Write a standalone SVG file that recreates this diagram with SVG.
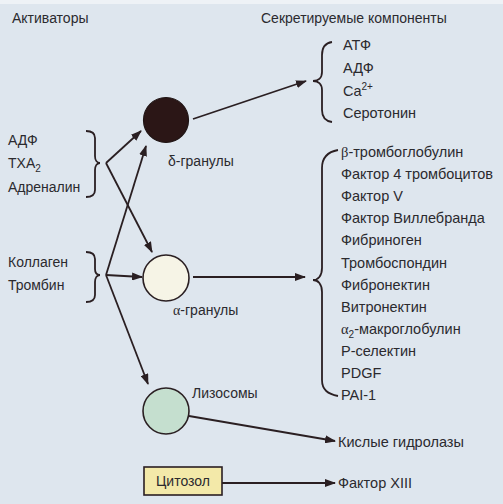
<svg xmlns="http://www.w3.org/2000/svg" width="503" height="504" viewBox="0 0 503 504">
<defs>
<marker id="ah" markerUnits="userSpaceOnUse" markerWidth="11" markerHeight="8" refX="10" refY="4" orient="auto">
<path d="M0,0 L11,4 L0,8 Z" fill="#2a1f22"/>
</marker>
<style>
text{font-family:"Liberation Sans",Arial,sans-serif;font-size:14px;fill:#2b2a2e}
.prod text{font-size:14.5px}
.sub{font-size:10px}
.gr{font-family:"Liberation Serif","DejaVu Serif",serif}
.conn line{stroke:#2a1f22;stroke-width:1.8;fill:none}
.arr{marker-end:url(#ah)}
.brace{stroke:#2a1f22;stroke-width:1.8;fill:none}
</style>
</defs>
<rect width="503" height="504" fill="#dee6ee"/>
<rect width="503" height="4" fill="#eef2f6"/>

<g id="headers">
<text x="12" y="23">Активаторы</text>
<text x="261" y="23">Секретируемые компоненты</text>
</g>

<g id="activators1">
<text x="8" y="145">АДФ</text>
<text x="8" y="168">ТХА<tspan class="sub" dy="4">2</tspan></text>
<text x="8" y="192">Адреналин</text>
<path class="brace" d="M86,131 C92,131 95,133 95,138 L95,156 C95,160 97,163 100,163 C97,163 95,166 95,170 L95,190 C95,195 92,197 86,197"/>
</g>

<g id="activators2">
<text x="8" y="267">Коллаген</text>
<text x="8" y="290">Тромбин</text>
<path class="brace" d="M86,252 C92,252 95,254 95,259 L95,269 C95,273 97,275 100,275 C97,275 95,278 95,282 L95,295 C95,300 92,302 86,302"/>
</g>

<g id="delta">
<circle cx="166" cy="120" r="22.5" fill="#2b1616" stroke="#1f1414" stroke-width="1.2"/>
<text x="168" y="166"><tspan>δ</tspan>-гранулы</text>
</g>

<g id="alpha">
<circle cx="166" cy="278" r="23" fill="#f6f4e6" stroke="#2a1f22" stroke-width="1.6"/>
<text x="173" y="315"><tspan class="gr">α</tspan>-гранулы</text>
</g>

<g id="lysosome">
<circle cx="166" cy="411" r="23" fill="#c5dfcf" stroke="#2a1f22" stroke-width="1.6"/>
<text x="192" y="398">Лизосомы</text>
</g>

<g id="cytosol">
<rect x="144" y="467" width="78" height="28" fill="#f3e9a9" stroke="#2a1f22" stroke-width="1.6"/>
<text x="183" y="486" text-anchor="middle">Цитозол</text>
</g>

<g id="delta-products" class="prod">
<path class="brace" d="M332,42 C325,43 322,47 322,55 L322,72 C322,78 318,81 313,81 C318,81 322,84 322,90 L322,110 C322,117 325,121 332,122"/>
<text x="343" y="50">АТФ</text>
<text x="343" y="73">АДФ</text>
<text x="343" y="96">Ca<tspan class="sub" dy="-6">2+</tspan></text>
<text x="343" y="118">Серотонин</text>
</g>

<g id="alpha-products" class="prod">
<path class="brace" d="M338,150 C327,152 322,158 322,168 L322,268 C322,276 318,280 313,280 C318,280 322,284 322,292 L322,380 C322,390 328,394 338,396"/>
<text x="341" y="157"><tspan class="gr">β</tspan>-тромбоглобулин</text>
<text x="341" y="179">Фактор 4 тромбоцитов</text>
<text x="341" y="201">Фактор V</text>
<text x="341" y="223">Фактор Виллебранда</text>
<text x="341" y="245">Фибриноген</text>
<text x="341" y="268">Тромбоспондин</text>
<text x="341" y="290">Фибронектин</text>
<text x="341" y="312">Витронектин</text>
<text x="341" y="334"><tspan class="gr">α</tspan><tspan class="sub" dy="4">2</tspan><tspan dy="-4">-макроглобулин</tspan></text>
<text x="341" y="356">Р-селектин</text>
<text x="341" y="378">PDGF</text>
<text x="341" y="400">PAI-1</text>
</g>

<g id="hydrolases" class="prod">
<text x="338" y="447">Кислые гидролазы</text>
</g>

<g id="factor13" class="prod">
<text x="338" y="488">Фактор XIII</text>
</g>

<g class="conn" id="connectors">
<line class="arr" x1="193" y1="119" x2="306" y2="81"/>
<line class="arr" x1="106" y1="163" x2="141" y2="131"/>
<line class="arr" x1="106" y1="163" x2="152" y2="252"/>
<line class="arr" x1="106" y1="275" x2="142" y2="277"/>
<line class="arr" x1="106" y1="275" x2="146" y2="146"/>
<line class="arr" x1="106" y1="275" x2="148" y2="384"/>
<line class="arr" x1="193" y1="277" x2="305" y2="277"/>
<line class="arr" x1="189" y1="416" x2="335" y2="441"/>
<line class="arr" x1="222" y1="483" x2="335" y2="483"/>
</g>
</svg>
